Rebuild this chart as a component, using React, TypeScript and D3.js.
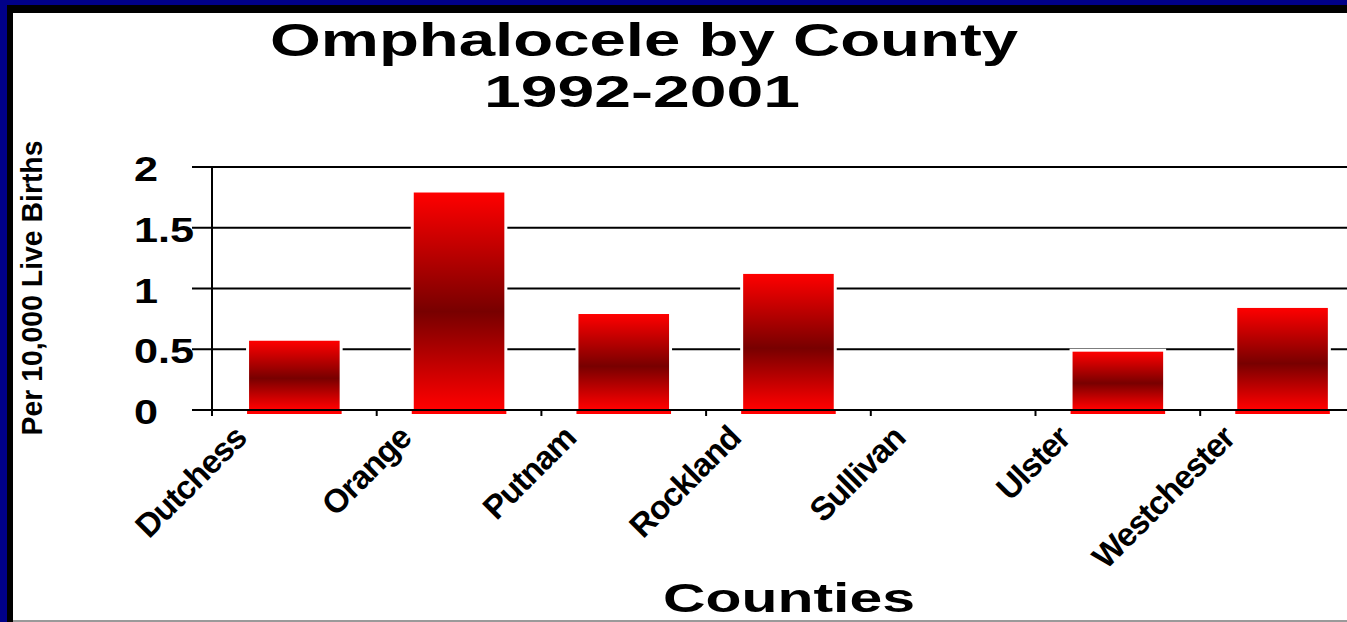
import React from "react";
import * as d3 from "d3";

const counties = ["Dutchess", "Orange", "Putnam", "Rockland", "Sullivan", "Ulster", "Westchester"];
const rates = [0.57, 1.79, 0.79, 1.12, 0, 0.48, 0.84];
const yTicks = [0, 0.5, 1, 1.5, 2];
const yTickLabels = ["0", "0.5", "1", "1.5", "2"];
const titleLines = ["Omphalocele by County", "1992-2001"];
const xTitle = "Counties";
const yTitle = "Per 10,000 Live Births";

const W = 1347;
const H = 622;
const FONT = "'Liberation Sans', Arial, sans-serif";

export default function App() {
  const plotLeft = 212;
  const step = 164.7;
  const x = d3
    .scaleBand<string>()
    .domain(counties)
    .range([plotLeft, plotLeft + step * counties.length])
    .paddingInner(0.45)
    .paddingOuter(0.225);
  const y = d3.scaleLinear().domain([0, 2]).range([410, 167]);
  const bw = x.bandwidth();
  const st = x.step();
  const y0 = y(0);

  return (
    <svg
      width={W}
      height={H}
      style={{ position: "absolute", left: 0, top: 0, display: "block" }}
      xmlns="http://www.w3.org/2000/svg"
    >
      <defs>
        <linearGradient id="barGrad" x1="0" y1="0" x2="0" y2="1">
          <stop offset="0%" stopColor="#ff0000" />
          <stop offset="55%" stopColor="#780000" />
          <stop offset="100%" stopColor="#ff0000" />
        </linearGradient>
      </defs>
      {/* frame */}
      <rect x={0} y={0} width={W} height={H} fill="#000088" />
      <rect x={7} y={5} width={W - 7} height={H - 5} fill="#000000" />
      <rect x={13} y={13} width={W - 13} height={607} fill="#ffffff" />
      <rect x={13} y={620} width={W - 13} height={2} fill="#9a9a9a" />

      {/* title */}
      <text
        x={644}
        y={56}
        textAnchor="middle"
        fontFamily={FONT}
        fontWeight="bold"
        fontSize={46}
        textLength={748}
        lengthAdjust="spacingAndGlyphs"
      >
        {titleLines[0]}
      </text>
      <text
        x={642}
        y={107}
        textAnchor="middle"
        fontFamily={FONT}
        fontWeight="bold"
        fontSize={44}
        textLength={316}
        lengthAdjust="spacingAndGlyphs"
      >
        {titleLines[1]}
      </text>

      {/* gridlines */}
      {yTicks.map((t) => (
        <line key={"g" + t} x1={192} x2={W} y1={y(t)} y2={y(t)} stroke="#000" strokeWidth={2} />
      ))}

      {/* white gaps behind bars */}
      {counties.map((c, i) =>
        rates[i] > 0 ? (
          <rect
            key={"w" + c}
            x={(x(c) as number) - 3}
            y={y(rates[i]) - 3}
            width={bw + 6}
            height={y0 - y(rates[i]) + 2}
            fill="#fff"
          />
        ) : null
      )}

      {/* x axis line */}
      <line x1={192} x2={W} y1={y0} y2={y0} stroke="#000" strokeWidth={2} />

      {/* bars */}
      {counties.map((c, i) =>
        rates[i] > 0 ? (
          <g key={"b" + c}>
            <rect
              x={x(c) as number}
              y={y(rates[i])}
              width={bw}
              height={y0 - y(rates[i]) - 1}
              fill="url(#barGrad)"
            />
            <rect x={(x(c) as number) - 2} y={y0 + 1} width={bw + 4} height={3} fill="#ff0000" />
          </g>
        ) : null
      )}

      {/* y axis */}
      <line x1={plotLeft} x2={plotLeft} y1={y(2) - 1} y2={y0 + 6} stroke="#000" strokeWidth={2} />
      {/* x ticks */}
      {counties.map((c) => {
        const tx = (x(c) as number) - (st - bw) / 2;
        return <line key={"t" + c} x1={tx} x2={tx} y1={y0} y2={y0 + 6} stroke="#000" strokeWidth={2} />;
      })}

      {/* y tick labels */}
      {yTicks.map((t, i) => (
        <text
          key={"yl" + t}
          x={0}
          y={0}
          transform={`translate(134,${y(t) + 14}) scale(1.2,1)`}
          fontFamily={FONT}
          fontWeight="bold"
          fontSize={36}
        >
          {yTickLabels[i]}
        </text>
      ))}

      {/* x tick labels */}
      {counties.map((c) => {
        const cx = (x(c) as number) + bw / 2 - 46;
        return (
          <text
            key={"xl" + c}
            transform={`translate(${cx},440) rotate(-45)`}
            textAnchor="end"
            fontFamily={FONT}
            fontWeight="bold"
            fontSize={33}
            letterSpacing={-1}
          >
            {c}
          </text>
        );
      })}

      {/* axis titles */}
      <text
        x={789}
        y={612}
        textAnchor="middle"
        fontFamily={FONT}
        fontWeight="bold"
        fontSize={40}
        textLength={252}
        lengthAdjust="spacingAndGlyphs"
      >
        {xTitle}
      </text>
      <text
        transform={`translate(42,288) rotate(-90)`}
        textAnchor="middle"
        fontFamily={FONT}
        fontWeight="bold"
        fontSize={29}
        textLength={295}
        lengthAdjust="spacingAndGlyphs"
      >
        {yTitle}
      </text>
    </svg>
  );
}
